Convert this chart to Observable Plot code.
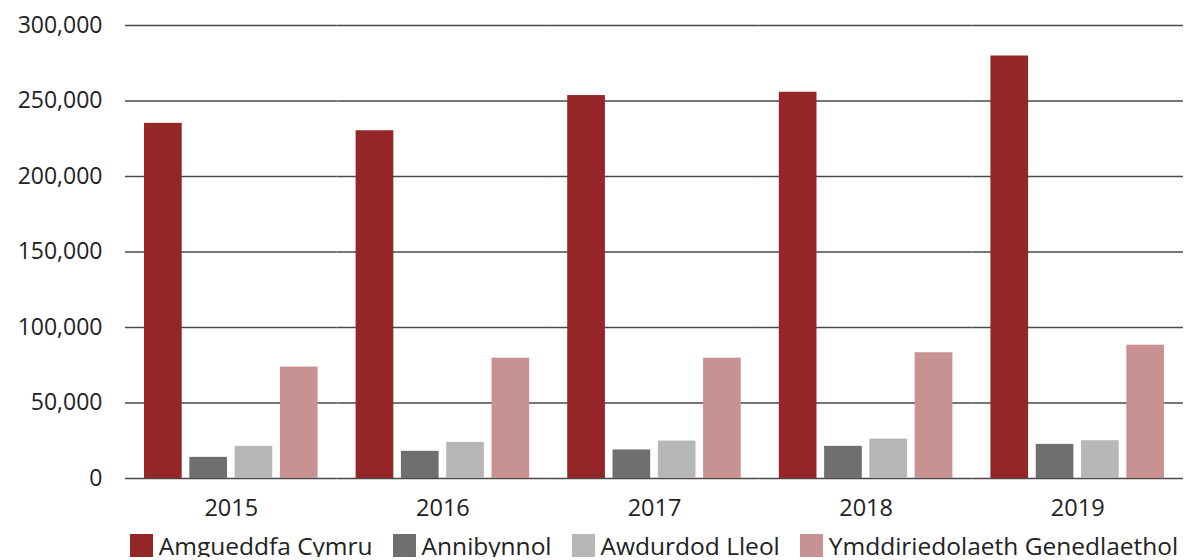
<!DOCTYPE html>
<html>
<head>
<meta charset="utf-8">
<script src="https://cdn.jsdelivr.net/npm/d3@7"></script>
<script src="https://cdn.jsdelivr.net/npm/@observablehq/plot@0.6"></script>
<style>
  html, body { margin: 0; padding: 0; background: #fff; }
  body { font-family: "Open Sans", Lato, sans-serif; color: #222; width: 1191px; }
  #legend { display: flex; justify-content: center; align-items: center; gap: 20px;
            padding-left: 125px; padding-right: 8px; margin-top: 6px; font-size: 24.5px; line-height: 23px; white-space: nowrap; }
  .item { display: flex; align-items: center; gap: 6px; }
  .sw { width: 23px; height: 23px; display: inline-block; }
</style>
</head>
<body>
<div id="chart"></div>
<div id="legend"></div>
<script>
const years = ["2015", "2016", "2017", "2018", "2019"];
const series = ["Amgueddfa Cymru", "Annibynnol", "Awdurdod Lleol", "Ymddiriedolaeth Genedlaethol"];
const colors = ["#942628", "#6f6f6f", "#b7b7b7", "#c99292"];
const amgueddfa = [235200, 230300, 253600, 255800, 279800];
const annibynnol = [14000, 18000, 18900, 21300, 22600];
const awdurdod = [21300, 23900, 24800, 26100, 25000];
const ymddiriedolaeth = [73800, 79700, 79700, 83300, 88300];
const yTicks = [0, 50000, 100000, 150000, 200000, 250000, 300000];

const seriesValues = [amgueddfa, annibynnol, awdurdod, ymddiriedolaeth];
const data = [];
years.forEach((yr, i) => {
  series.forEach((s, j) => data.push({year: yr, series: s, value: seriesValues[j][i]}));
});

const chart = Plot.plot({
  width: 1191,
  height: 528,
  marginLeft: 125,
  marginRight: 8,
  marginTop: 25,
  marginBottom: 50,
  style: {fontFamily: "'Open Sans', Lato, sans-serif", fontSize: "23px", color: "#222", background: "#fff"},
  fx: {domain: years, padding: 0, round: false, label: null, axis: null},
  x: {domain: series, paddingInner: 0.168, paddingOuter: 0.42, round: false, axis: null},
  y: {domain: [0, 300000], label: null, axis: null},
  color: {domain: series, range: colors},
  marks: [
    Plot.gridY(yTicks, {stroke: "#4a4a4a", strokeOpacity: 1, strokeWidth: 1.3}),
    Plot.barY(data, {fx: "year", x: "series", y: "value", fill: "series"}),
    Plot.axisY(yTicks, {tickSize: 0, tickPadding: 23, tickFormat: d3.format(","), label: null, fontSize: 23, fill: "#222"}),
    Plot.axisFx({anchor: "bottom", tickSize: 0, tickPadding: 21, label: null, fontSize: 23.5, fill: "#222"})
  ]
});
document.getElementById("chart").appendChild(chart);

const legend = document.getElementById("legend");
series.forEach((s, j) => {
  const item = document.createElement("div");
  item.className = "item";
  const sw = document.createElement("span");
  sw.className = "sw";
  sw.style.background = colors[j];
  const t = document.createElement("span");
  t.textContent = s;
  item.appendChild(sw);
  item.appendChild(t);
  legend.appendChild(item);
});
</script>
</body>
</html>
